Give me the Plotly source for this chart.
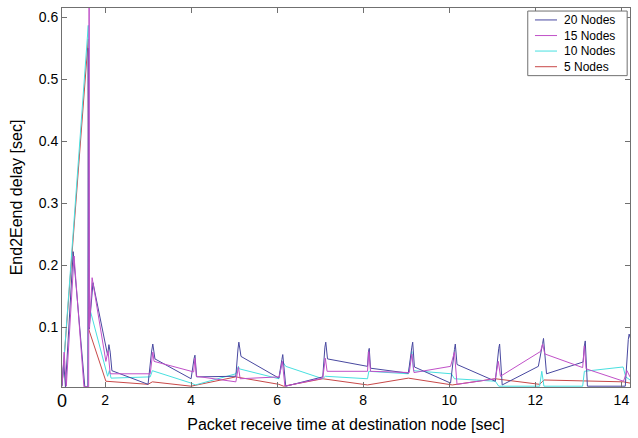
import plotly.graph_objects as go

# End-to-end delay samples per network size (time [sec], delay [sec])
t_20 = [1.00, 1.04, 1.08, 1.26, 1.53, 1.60, 1.61, 1.63, 1.72, 2.03, 2.06, 2.09, 2.12, 2.16,
        3.00, 3.08, 3.11, 3.16, 4.00, 4.07, 4.09, 4.13, 5.04, 5.09, 5.11, 5.16, 6.04, 6.11, 6.13, 6.20,
        7.06, 7.11, 7.13, 7.17, 8.10, 8.12, 8.14, 8.17, 9.05, 9.13, 9.15, 9.19,
        10.03, 10.12, 10.14, 10.18, 11.07, 11.15, 11.17, 11.23, 12.07, 12.17, 12.19, 12.26,
        13.11, 13.14, 13.16, 13.21, 14.09, 14.16, 14.18, 14.22]
d_20 = [0.006, 0.045, 0.004, 0.222, 0.004, 0.004, 0.550, 0.097, 0.172, 0.070, 0.055, 0.072, 0.060, 0.030,
        0.008, 0.060, 0.073, 0.049, 0.017, 0.050, 0.055, 0.020, 0.021, 0.065, 0.076, 0.053, 0.018, 0.048, 0.056, 0.005,
        0.020, 0.068, 0.076, 0.049, 0.037, 0.060, 0.066, 0.034, 0.026, 0.068, 0.076, 0.036,
        0.010, 0.064, 0.073, 0.040, 0.013, 0.066, 0.073, 0.007, 0.037, 0.074, 0.082, 0.025,
        0.044, 0.070, 0.078, 0.005, 0.005, 0.080, 0.089, 0.080]

t_15 = [1.00, 1.05, 1.10, 1.28, 1.51, 1.62, 1.63, 1.64, 1.70, 2.02, 2.07, 2.12,
        3.05, 3.11, 3.14, 4.06, 4.09, 4.12, 5.04, 5.10, 5.14, 6.05, 6.12, 6.18,
        7.06, 7.12, 7.16, 8.10, 8.13, 8.17, 9.07, 9.13, 9.18, 10.03, 10.12, 10.18,
        11.07, 11.14, 11.19, 12.12, 12.17, 12.22, 13.10, 13.14, 13.18, 14.05, 14.13, 14.20]
d_15 = [0.005, 0.060, 0.005, 0.215, 0.004, 0.004, 0.640, 0.100, 0.180, 0.045, 0.062, 0.025,
        0.025, 0.060, 0.045, 0.028, 0.050, 0.021, 0.012, 0.036, 0.017, 0.020, 0.045, 0.005,
        0.018, 0.050, 0.029, 0.029, 0.061, 0.029, 0.027, 0.057, 0.027, 0.037, 0.060, 0.008,
        0.017, 0.045, 0.021, 0.061, 0.073, 0.057, 0.035, 0.070, 0.033, 0.013, 0.030, 0.020]

t_10 = [1.00, 1.61, 1.63, 2.06, 2.10, 2.14, 3.05, 3.10, 4.00, 4.10, 5.04, 5.10, 5.12,
        6.04, 6.12, 6.20, 7.06, 7.12, 8.10, 8.13, 9.05, 9.13, 9.17, 10.05, 10.12,
        11.07, 11.15, 12.10, 12.15, 12.20, 13.10, 13.14, 14.04, 14.10, 14.20]
d_10 = [0.005, 0.587, 0.134, 0.021, 0.030, 0.018, 0.020, 0.030, 0.010, 0.007, 0.025, 0.037, 0.033,
        0.017, 0.045, 0.037, 0.017, 0.021, 0.017, 0.029, 0.025, 0.061, 0.030, 0.025, 0.017,
        0.013, 0.005, 0.005, 0.029, 0.005, 0.005, 0.029, 0.036, 0.020, 0.015]

t_5 = [1.00, 1.61, 1.62, 2.02, 3.00, 3.10, 4.00, 5.04, 6.04, 6.15, 7.06, 8.10,
       9.05, 10.07, 11.07, 12.10, 12.20, 14.05, 14.20]
d_5 = [0.005, 0.565, 0.097, 0.013, 0.008, 0.012, 0.005, 0.020, 0.008, 0.005, 0.017, 0.007,
       0.018, 0.007, 0.017, 0.008, 0.015, 0.012, 0.010]

series_names = ["20 Nodes", "15 Nodes", "10 Nodes", "5 Nodes"]
series_t = [t_20, t_15, t_10, t_5]
series_d = [d_20, d_15, d_10, d_5]
series_colors = ["#4848a0", "#c050c8", "#48e0e0", "#c84848"]

x_ticks = [2, 4, 6, 8, 10, 12, 14]
y_ticks = [0.1, 0.2, 0.3, 0.4, 0.5, 0.6]

FONT = "Liberation Sans, Arial, sans-serif"

fig = go.Figure()
# draw the smaller networks first so the 20/15-node spikes stay on top
for i in [3, 2, 0, 1]:
    fig.add_trace(go.Scatter(x=series_t[i], y=series_d[i], mode="lines",
                             name=series_names[i], showlegend=False,
                             line=dict(color=series_colors[i], width=1)))

axis_common = dict(showline=True, linecolor="#707070", linewidth=1, mirror="ticks",
                   ticks="inside", ticklen=5, tickcolor="#707070", showgrid=False,
                   zeroline=False, tickfont=dict(family=FONT, size=14, color="black"))

fig.update_xaxes(range=[1.0, 14.2], tickvals=x_ticks, ticktext=[str(v) for v in x_ticks],
                 title=dict(text="Packet receive time at destination node [sec]",
                            font=dict(family=FONT, size=16, color="black"), standoff=12),
                 **axis_common)
fig.update_yaxes(range=[0.0037, 0.615], tickvals=y_ticks, ticktext=[str(v) for v in y_ticks],
                 title=dict(text="End2Eend delay [sec]",
                            font=dict(family=FONT, size=16, color="black"), standoff=12),
                 **axis_common)

# origin label at the lower-left corner
fig.add_annotation(text="0", x=0, y=0, xref="paper", yref="paper", xanchor="center",
                   yanchor="top", showarrow=False, yshift=-2,
                   font=dict(family=FONT, size=18, color="black"))

# compact legend box in the upper-right corner
box_x0, box_x1, box_y0, box_y1 = 0.820, 0.995, 0.8215, 0.992
fig.add_shape(type="rect", xref="paper", yref="paper", x0=box_x0, x1=box_x1,
              y0=box_y0, y1=box_y1, line=dict(color="#707070", width=1),
              fillcolor="white", layer="above")
entry_y = [0.9685, 0.9273, 0.8864, 0.8451]
for color, ey in zip(series_colors, entry_y):
    fig.add_shape(type="line", xref="paper", yref="paper", x0=0.8327, x1=0.8715,
                  y0=ey, y1=ey, line=dict(color=color, width=1), layer="above")
fig.add_annotation(text="<br>".join(series_names), xref="paper", yref="paper",
                   x=0.880, y=(box_y0 + box_y1) / 2, xanchor="left", yanchor="middle",
                   align="left", showarrow=False,
                   font=dict(family=FONT, size=12, color="black"))

fig.update_layout(
    width=638, height=438,
    margin=dict(l=62, r=8, t=7, b=50),
    paper_bgcolor="white", plot_bgcolor="white",
    font=dict(family=FONT, color="black"),
    showlegend=False,
)

fig.write_html("out.html")
